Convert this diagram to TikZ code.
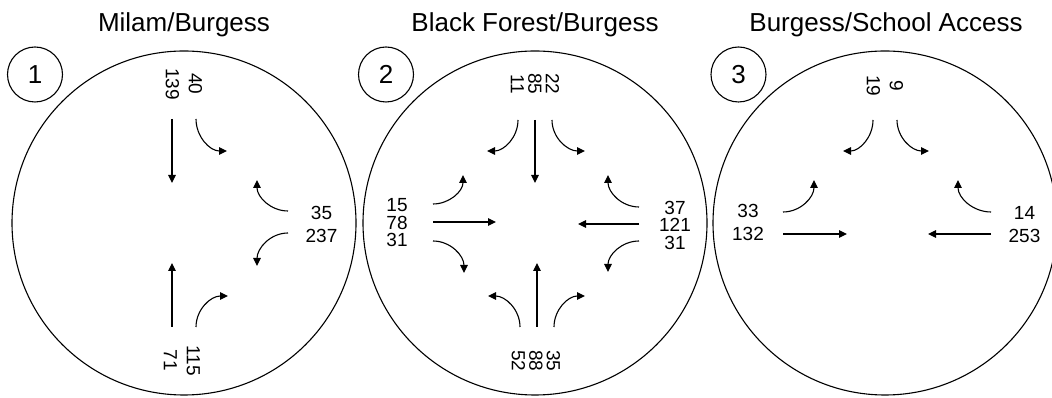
\documentclass[tikz,border=0pt]{standalone}
\usepackage{fontspec}
\setmainfont{Liberation Sans}
\usetikzlibrary{arrows.meta}
\tikzset{
  ring/.style={circle,draw,line width=1.1pt,minimum size=344pt,inner sep=0pt},
  badge/.style={circle,draw,line width=1.1pt,minimum size=55pt,inner sep=0pt,font=\fontsize{26}{30}\selectfont},
  ttl/.style={anchor=base,inner sep=0pt,font=\fontsize{26}{30}\selectfont},
  cnt/.style={align=center,inner sep=0pt,font=\fontsize{19}{23}\selectfont},
  cnt3/.style={align=center,inner sep=0pt,font=\fontsize{19}{17.5}\selectfont},
  mv/.style={-{Triangle[length=8pt,width=7.5pt]},line width=1.1pt}
}
\begin{document}
\begin{tikzpicture}[x=1pt,y=1pt]
\useasboundingbox (0,0) rectangle (1052,398);
% 1: Milam/Burgess
\begin{scope}[shift={(184,175)}]
  \node[ring](c1) at (0,0){};
  \node[ttl](t1) at (0,191){Milam/Burgess};
  \node[badge](b1) at (-149,148.5){1};
  \node[cnt,rotate=-90](n1n) at (0,139){40\\139};
  \node[cnt,rotate=-90](n1s) at (-2,-137.5){115\\71};
  \node[cnt](n1e) at (137.5,-1){35\\237};
  \draw[mv] (-12,104) -- (-12,40);
  \draw[mv] (12,104) to[out=-90,in=180] (43,72);
  \draw[mv] (104,12) to[out=180,in=-90] (73,43);
  \draw[mv] (104,-10) to[out=180,in=90] (73,-43);
  \draw[mv] (-12,-104) -- (-12,-40);
  \draw[mv] (12,-104) to[out=90,in=180] (44,-73);
\end{scope}
% 2: Black Forest/Burgess
\begin{scope}[shift={(535,175)}]
  \node[ring](c2) at (0,0){};
  \node[ttl](t2) at (0,191){Black Forest/Burgess};
  \node[badge](b2) at (-149,148.5){2};
  \node[cnt3,rotate=-90](n2n) at (0,139){22\\85\\11};
  \node[cnt3,rotate=-90](n2s) at (1,-138){35\\88\\52};
  \node[cnt3](n2w) at (-138,0){15\\78\\31};
  \node[cnt3](n2e) at (140,-2){37\\121\\31};
  \draw[mv] (0,103) -- (0,40);
  \draw[mv] (-17,103) to[out=-90,in=0] (-48,72);
  \draw[mv] (17,103) to[out=-90,in=180] (50,72);
  \draw[mv] (-102,1) -- (-39,1);
  \draw[mv] (-102,19) to[out=0,in=-90] (-72,48);
  \draw[mv] (-102,-18) to[out=0,in=90] (-71,-50);
  \draw[mv] (104,-1) -- (43,-1);
  \draw[mv] (104,16) to[out=180,in=-90] (73,48);
  \draw[mv] (104,-18) to[out=180,in=90] (73,-49);
  \draw[mv] (2,-104) -- (2,-40);
  \draw[mv] (-15,-104) to[out=90,in=0] (-47,-73);
  \draw[mv] (19,-104) to[out=90,in=180] (50,-73);
\end{scope}
% 3: Burgess/School Access
\begin{scope}[shift={(885,175)}]
  \node[ring](c3) at (0,0){};
  \node[ttl](t3) at (1,191){Burgess/School Access};
  \node[badge](b3) at (-146.5,148.5){3};
  \node[cnt,rotate=-90](n3n) at (0,137){9\\19};
  \node[cnt](n3w) at (-137,1){33\\132};
  \node[cnt](n3e) at (139.5,-1.5){14\\253};
  \draw[mv] (-12,103) to[out=-90,in=0] (-42,72);
  \draw[mv] (12,103) to[out=-90,in=180] (44,72);
  \draw[mv] (-102,11) to[out=0,in=-90] (-71,43);
  \draw[mv] (-102,-11) -- (-38,-11);
  \draw[mv] (106,11) to[out=180,in=-90] (73,43);
  \draw[mv] (106,-11) -- (43,-11);
\end{scope}
\end{tikzpicture}
\end{document}
